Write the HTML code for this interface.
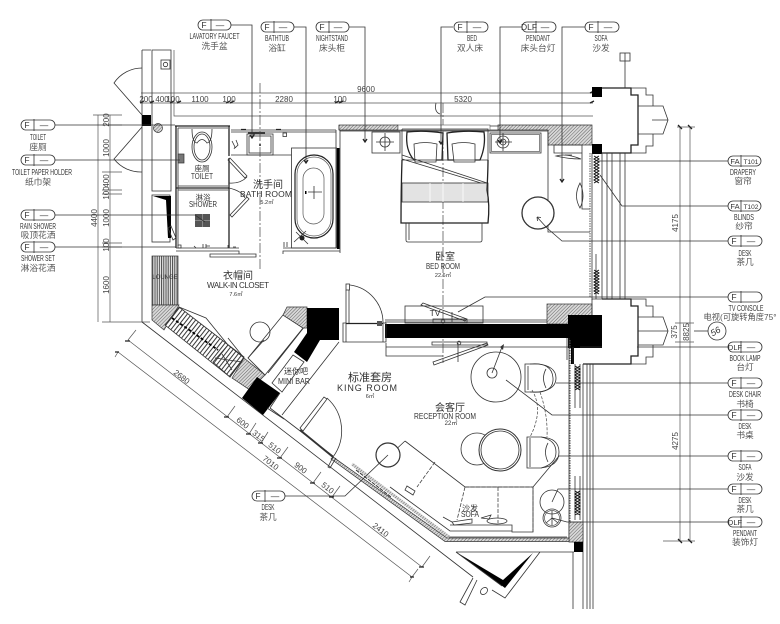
<!DOCTYPE html>
<html><head><meta charset="utf-8"><style>
html,body{margin:0;padding:0;background:#fff;width:780px;height:624px;overflow:hidden}
svg{display:block}
.s{fill:none;stroke:#333;stroke-width:.8}
.t{fill:none;stroke:#222;stroke-width:1.3}
.g{fill:none;stroke:#555;stroke-width:.7}
.k{fill:#000;stroke:none}
.h{fill:url(#hatch);stroke:#333;stroke-width:.7}
.p{fill:#fff;stroke:#333;stroke-width:.8}
text{font-family:"Liberation Sans","Noto Sans CJK SC",sans-serif;fill:#333;text-anchor:middle}
.l{font-size:8.5px}
.c{font-size:8.7px;fill:#555}
.a{font-size:8px}
.d{font-size:8px;fill:#444}
.b{font-size:9px}
.m{font-size:11px}
</style></head><body>
<svg width="780" height="624" viewBox="0 0 780 624" xmlns="http://www.w3.org/2000/svg">
<defs>
<pattern id="hatch" width="2.4" height="2.4" patternUnits="userSpaceOnUse" patternTransform="rotate(45)"><rect width="2.4" height="2.4" fill="#d8d8d8"/><line x1="0" y1="0" x2="0" y2="2.4" stroke="#555" stroke-width=".9"/></pattern>
<pattern id="vst" width="2.2" height="4" patternUnits="userSpaceOnUse"><rect width="2.2" height="4" fill="#eee"/><line x1="1" y1="0" x2="1" y2="4" stroke="#444" stroke-width="1"/></pattern>
<pattern id="dst" width="3.4" height="4" patternUnits="userSpaceOnUse" patternTransform="rotate(38)"><rect width="3.4" height="4" fill="#fff"/><line x1="1" y1="0" x2="1" y2="4" stroke="#333" stroke-width="1"/></pattern>
</defs>

<!-- top dimension lines -->
<path class="g" d="M141 93H593M141 103H593M174 50V116H593"/>
<path class="t" d="M140 103l4-2M150 103l4-2M170 103l4-2M177 103l4-2M226 103l4-2M230 103l4-2M335 103l4-2M339 103l4-2M590 93l4-2M590 103l4-2"/>
<text class="d" x="146" y="102">200</text><text class="d" x="162" y="102">400</text><text class="d" x="173" y="102">100</text><text class="d" x="200" y="102">1100</text><text class="d" x="229" y="102">100</text><text class="d" x="284" y="102">2280</text><text class="d" x="340" y="102">100</text><text class="d" x="366" y="92">9600</text><text class="d" x="463" y="102">5320</text>

<!-- left dimensions -->
<path class="g" d="M98 115V322M110 115V322M93 115H122M102 125H122M102 172H122M102 190H122M102 194H122M102 243H122M102 247H122M102 322H150"/>
<g class="d">
<text class="d" transform="translate(109,120) rotate(-90)">200</text>
<text class="d" transform="translate(109,148) rotate(-90)">1000</text>
<text class="d" transform="translate(109,181) rotate(-90)">400</text>
<text class="d" transform="translate(109,193) rotate(-90)">100</text>
<text class="d" transform="translate(109,218) rotate(-90)">1000</text>
<text class="d" transform="translate(109,245) rotate(-90)">100</text>
<text class="d" transform="translate(109,285) rotate(-90)">1600</text>
<text class="d" transform="translate(97,218) rotate(-90)">4400</text>
</g>

<!-- left service / doors -->
<path class="s" d="M142 50V322M152 50H171V191H152ZM142 50H151"/>
<path class="s" d="M142 68A34 34 0 0 0 114 83L142 115M142 172A34 34 0 0 1 114 159L142 127"/>
<rect class="k" x="142" y="115" width="9" height="11"/>
<circle cx="158" cy="128" r="4.5" fill="url(#hatch)" stroke="#333" stroke-width=".7"/>
<rect class="s" x="161" y="60" width="9" height="9"/><circle class="s" cx="165.500" cy="64.500" r="2.200"/>
<rect class="s" x="152" y="195" width="18" height="47"/>
<path class="k" d="M153 196H171V238H168L166 200Z"/>
<path class="s" d="M171 226l5 12-3 2-5-12z"/>

<!-- bathroom walls -->
<path class="t" d="M175 126H230M176 126V248M229 126V156M176 188H229M229 158V248"/>
<path class="s" d="M178 128H228M178 128V246M178 186H228M178 190H228M176 248H239M176 251H239V254M283 254V251H340M283 248H336M231 130H336M231 132H336M231 155H291.500M340 130V253M336 130V248M339 125V130"/>
<path class="k" d="M337 148H339.500V249H337Z"/>
<path class="s" d="M210 254H256V257H210Z"/>
<path class="s" d="M230 158l17 18-2 2-17-18zM247 197l-17 18 2 2 17-18z"/>
<path class="s" d="M247 177Q240 184 229 183M245 198Q242 191 229 188"/>
<!-- toilet -->
<ellipse class="s" cx="202" cy="147" rx="10" ry="15"/><ellipse class="s" cx="202" cy="147" rx="8" ry="13"/>
<path class="s" d="M192 129Q192 142 197 143Q202 136 207 143Q212 142 212 129"/>
<rect x="178" y="154" width="6" height="9" fill="#777" stroke="#333" stroke-width=".7"/>
<!-- shower -->
<rect x="195" y="214" width="15" height="13" fill="#555"/>
<path d="M195 220.500H210M202.500 214V227" stroke="#bbb" stroke-width=".5"/>
<path class="s" d="M178 245h3v3h-3zM194 246l2 2M203 244l0 4M206 244l0 4M210 246h-4M228 245v3M233 247h3"/>
<!-- vanity -->
<rect class="s" x="247" y="134" width="26" height="21"/><rect class="s" x="249" y="136" width="22" height="17"/>
<circle cx="260" cy="145" r="1" fill="#222"/>
<path class="t" d="M241 129.500h5M276 129.500h5M248 133h17"/>
<rect class="s" x="283" y="133" width="3.500" height="3.500"/>
<path class="s" d="M252 132l2 3 2-3"/>
<path class="s" d="M232 141l3 6-1 2M236 140l2 5-3 3"/>
<!-- tub -->
<rect class="s" x="291.500" y="148" width="45" height="100"/>
<rect x="295" y="155" width="38" height="83" rx="19" fill="none" stroke="#222" stroke-width="1.2"/>
<rect class="g" x="297" y="157" width="34" height="79" rx="17"/>
<rect class="g" x="303" y="168" width="21" height="56" rx="10.500"/>
<path class="s" d="M308 192H322M314 186V199"/><rect class="k" x="305" y="191" width="1.500" height="3"/>
<path class="s" d="M294 242l12-11M296 232l12 12"/><circle cx="302" cy="238" r="2.500" fill="#222"/>
<path class="s" d="M284 247v-5M287 247v-5"/>

<!-- center lines -->
<path d="M260 83V270M443 103V363" stroke="#444" stroke-width=".7" stroke-dasharray="10 2 2 2" fill="none"/>
<path class="s" d="M436 103Q434 112 440 114M441 104V116"/>

<!-- bedroom top wall -->
<path class="s" d="M339 126H498M339 130H498M340 131H548M548 131V146"/>
<rect class="h" x="339" y="125" width="59" height="5" />
<path class="h" d="M498 125H592V145H548V130H498Z"/>
<rect x="398" y="125" width="92" height="5" fill="#fff" stroke="#555" stroke-width=".6"/>

<!-- nightstands -->
<rect class="s" x="372" y="132" width="28" height="21" stroke-width="1"/>
<circle class="s" cx="385" cy="142" r="5"/><path class="s" d="M376 142H394M385 133V151"/>
<rect class="s" x="490" y="133" width="51" height="20" stroke-width="1"/><rect class="g" x="491.500" y="134.500" width="48" height="17"/>
<circle class="s" cx="503" cy="142" r="6"/><circle class="s" cx="503" cy="142" r="3"/><path class="s" d="M495 142H512M503 133V151"/>

<!-- bed -->
<path class="s" d="M402 129H488V160M402 129V160"/>
<path class="t" d="M407 132Q424 130 443 133L442 160H414Q405 150 407 132ZM447 133Q465 130 484 132Q486 146 480 160H448Z" stroke-width="1"/>
<path class="p" d="M414 144Q425 141 437 144L436 162H415Z"/>
<path class="p" d="M452 144Q464 141 475 144L475 162H454Z"/>
<path class="s" d="M402 155L487 183M402 159L481 183M402 160H488"/>
<rect x="402" y="183" width="86" height="19" fill="#e3e3e3" stroke="#333" stroke-width=".8"/>
<path d="M430 183V202M443 183V202M463 183V202" stroke="#fff" stroke-width=".8"/>
<path class="t" d="M402 160Q401 190 401 223H488Q490 205 487 190Q488 170 488 160"/>
<path class="s" d="M406 223V240Q406 242 408 242H480Q482 242 482 240V223M409 223V240"/>

<!-- wardrobe right -->
<path class="s" d="M548 132V232H590M554 145H582V153H554ZM582 153V209H590M565 155H572"/>
<path class="s" d="M556 156Q566 153 581 159Q568 159 556 156ZM580 183Q573 196 580 208Q586 196 580 183Z"/>
<circle cx="538" cy="213" r="16" fill="#fff" stroke="#333" stroke-width="1.300"/>
<path class="s" d="M547 228L537 217M537 217l4 .5M537 217l.5 4"/>

<!-- window A -->
<rect class="k" x="592" y="87" width="10" height="10"/>
<rect class="k" x="592" y="144" width="10" height="10"/>
<path class="t" d="M602 88H631V95H638V145H631V153H602"/>
<path class="s" d="M631 88H646V95H653V106H663L668 120L663 134H653V146H646V153H631M638 106H663M638 134H653M652 120H668M625 53V88"/>
<rect class="s" x="620" y="53" width="10" height="8"/>
<path class="s" d="M592 153V300M602 153V299M607 153V299M612 153V299M620 153V299M625 153V299M596 254V299M592 299H602"/>
<path d="M590 153V297" stroke="#555" stroke-width="1" stroke-dasharray="1.500 1" fill="none"/>
<path d="M594 156l5 3-5 3 5 3-5 3 5 3-5 3 5 3-5 3 5 3M599 156l-5 3 5 3-5 3 5 3-5 3 5 3-5 3 5 3-5 3M594 270l5 3-5 3 5 3-5 3 5 3-5 3 5 3-5 3M599 270l-5 3 5 3-5 3 5 3-5 3 5 3-5 3 5 3" stroke="#111" stroke-width="1" fill="none"/>

<!-- window B -->
<rect class="h" x="547" y="304" width="45" height="20"/>
<rect class="k" x="385" y="324" width="185" height="14"/>
<rect class="k" x="568" y="315" width="34" height="33"/>
<rect class="k" x="571" y="347" width="3" height="17"/>
<path class="t" d="M602 299H631V306H638V356H631V364H583"/>
<path class="s" d="M631 299H646V306H653V317H663L668 331L663 345H653V357H646V364H631M638 317H663M638 345H653M638 331H668M592 299V315"/>
<path class="s" d="M583 364V609M587 364V609M590 364V609M593 364V609M573 552V609M569 338V538"/>
<path d="M570 340V524" stroke="#555" stroke-width="1" stroke-dasharray="1.500 1" fill="none"/>
<path class="s" d="M575 364V408M580 364V408M575 476V520M580 476V520M573 364V347"/>
<path d="M575 366l5 3-5 3 5 3-5 3 5 3-5 3 5 3-5 3M580 366l-5 3 5 3-5 3 5 3-5 3 5 3-5 3 5 3M575 491l5 3-5 3 5 3-5 3 5 3-5 3 5 3-5 3M580 491l-5 3 5 3-5 3 5 3-5 3 5 3-5 3 5 3" stroke="#111" stroke-width="1" fill="none"/>
<path class="h" d="M569 522H583V542H569Z"/>
<rect class="k" x="574" y="542" width="9" height="10"/>

<!-- room divider & TV -->
<path class="s" d="M386 343V356H443M386 347H568M385 322H547M385 320H547M567 338V360"/>
<rect class="s" x="405" y="306" width="78" height="17"/>
<path class="s" d="M423 303l44 16-2 2-44-16zM433 319H467V323H433ZM432 345H487V342H432ZM433 362L487 343 488 345 434 365ZM452 312V322M458 343V362"/>
<circle class="s" cx="443" cy="321" r="1.800"/><circle class="s" cx="459" cy="343" r="1.800"/>

<!-- hotel door -->
<path class="s" d="M346 290V323M349 290V323"/>
<rect class="s" x="346" y="284" width="3.500" height="6"/>
<path class="s" d="M350 285A38 38 0 0 1 383 323"/>
<path class="t" d="M346 323.500H383" stroke-width="2"/><rect x="377" y="321" width="5" height="5" fill="#555"/>
<path class="s" d="M343 323H346V342H343ZM383 323H386V342H383ZM346 342H383"/>

<!-- closet diag wall -->
<path class="s" d="M142 322L473 577M270 408L333 456M333 457L447 540M447 537H567M390 487L450 531H512"/>
<path class="h" d="M333 457L447 538H569V541.500H445L331 459Z"/>
<rect x="152" y="256" width="26" height="49" fill="url(#vst)" stroke="#333" stroke-width=".7"/>
<text class="l" x="165" y="279" style="font-size:6px">LOUNGE</text>
<path class="h" d="M152 305H179L164 330 152 320Z"/>
<path d="M179 307L244 357 230 377 165 325Z" fill="url(#dst)" stroke="#333" stroke-width=".8"/>
<path d="M172 318L218 350" stroke="#000" stroke-width="1.800" stroke-dasharray="3 2" fill="none"/>
<path class="s" d="M179 307L206 318 228 345M228 338l16 20"/>
<path class="s" d="M228 345L244 358 230 377 213 362ZM215 358L242 362M222 354L232 370"/>
<path class="h" d="M244 358L265 375 250 390 232 378Z"/>
<path class="k" d="M257 377L280 393 263 415 242 398Z"/>
<path class="s" d="M248 358L283 315 303 328 265 375ZM268 373L305 326"/>
<circle class="s" cx="260" cy="332" r="10"/><path class="s" d="M264 340L248 358"/>
<path class="h" d="M283 315L287 307H307V328H303Z"/>
<path class="k" d="M307 308H339V340H320L307 362 294 352 307 333Z"/>
<path class="s" d="M293 355L304 362 282 392 272 383ZM339 342L282 415M267 408L284 419M280 393L270 408"/>

<!-- lower door -->
<path class="s" d="M300 428L324 397 327 399 303 431Z"/>
<path class="s" d="M327 398A44 44 0 0 1 333 457"/>
<path d="M300 430L333 457" stroke="#333" stroke-width="1.800"/>
<path class="s" d="M333 457L328 467 330 468 336 458"/>

<!-- dim diag -->
<path class="g" d="M128 340L422 567M118 352L412 577M128 340l8-10M227 417l8-11M249 434l7-11M261 443l7-11M280 458l8-11M313 483l8-11M332 497l8-11M422 567l8-11M412 577l6-8M412 577l-3 5M118 352l-3 5"/>
<path class="t" d="M125 341h5M224 417h5M246 434h5M258 443h5M277 458h5M310 483h5M329 497h5M419 567h5M410 577h4M115 352h4"/>
<text class="d" transform="translate(180,379) rotate(38)">2680</text>
<text class="d" transform="translate(241,425) rotate(38)">600</text>
<text class="d" transform="translate(257,438) rotate(38)">315</text>
<text class="d" transform="translate(273,450) rotate(38)">510</text>
<text class="d" transform="translate(299,470) rotate(38)">900</text>
<text class="d" transform="translate(326,490) rotate(38)">510</text>
<text class="d" transform="translate(269,465) rotate(38)">7010</text>
<text class="d" transform="translate(379,532) rotate(38)">2410</text>

<!-- sofa zone -->
<path class="s" d="M405 441L465 487H533V532H512V525H450M405 441L390 455"/>
<path d="M465 487H533V532" fill="none" stroke="#444" stroke-width="1" stroke-dasharray="4 1.500"/>
<path d="M498 487V523M435 462L417 487M465 487L457 520" fill="none" stroke="#444" stroke-width=".8" stroke-dasharray="4 1.500"/>
<path d="M356 470L391 497" stroke="#333" stroke-width="1" fill="none" stroke-dasharray="4 1"/>
<path d="M352 464L449 537" stroke="url(#hatch)" stroke-width="3" fill="none"/>
<path class="s" d="M407 486l8 5 -2 4 -8-5 z"/>
<ellipse class="s" cx="497" cy="521" rx="10" ry="3"/>
<path class="s" d="M443 517l9 5M452 522l20-3v4l-18 2zM481 518l10-3-2 4z"/>
<circle cx="388" cy="455" r="12" fill="#fff" stroke="#333" stroke-width="1.200"/>

<!-- reception furniture -->
<circle class="p" cx="496" cy="377" r="25" stroke-width="1.200"/>
<circle class="s" cx="492" cy="373" r="5"/><path class="s" d="M492 373L502 347"/>
<path d="M500 347l4-3 -1 6z" fill="#333"/>
<path class="s" d="M525 364H538Q556 366 556 378T538 392H525Z" stroke-width="1"/>
<path class="s" d="M528 366V390M530 364Q552 362 553 378T530 392M546 369Q541 378 546 388"/>
<path class="s" d="M527 437H541Q559 438 559 452T541 468H527Z" stroke-width="1"/>
<path class="s" d="M530 438V467M541 437Q556 440 556 452T541 468M548 443Q543 452 548 462"/>
<path d="M532 390Q544 410 530 437M540 392Q548 415 547 437" fill="none" stroke="#444" stroke-width=".7" stroke-dasharray="3 1.500"/>
<circle class="s" cx="477" cy="449" r="16" stroke-width="1.100"/>
<circle cx="500" cy="450" r="21" fill="#fff" stroke="#333" stroke-width="1"/>
<circle class="s" cx="500" cy="450" r="19"/>
<circle class="s" cx="552" cy="502" r="12" stroke-width="1.100"/>
<circle class="s" cx="552" cy="518" r="9" stroke-width="1.100"/><circle class="g" cx="552" cy="518" r="7.500"/>
<path class="s" d="M552 511V525M552 518L546 523M552 518L558 523"/>

<!-- bottom triangle -->
<path class="k" d="M456 552L503 580 533 553 505 588Z"/>
<path class="s" d="M456 552H574M540 552L505 598 492 590M456 552L502 586M477 580L465 605 460 602 473 578"/>
<ellipse class="s" cx="484" cy="591" rx="4" ry="3" transform="rotate(-45 484 591)"/>

<!-- right dims -->
<path class="g" d="M680 127V541M690 127V541M677 127H695M663 541H695M675 323H694M675 342H694"/>
<path class="t" d="M678 125l4 4M688 125l4 4M678 539l4 4M688 539l4 4"/>
<text class="d" transform="translate(678,223) rotate(-90)">4175</text>
<text class="d" transform="translate(678,441) rotate(-90)">4275</text>
<text class="d" transform="translate(677,332) rotate(-90)">375</text>
<text class="d" transform="translate(689,332) rotate(-90)">8825</text>
<path class="s" d="M694 331H708"/>
<circle class="s" cx="717" cy="331" r="9" stroke-width="1"/>
<text class="l" transform="translate(717,334) rotate(-30)" style="font-size:9px;font-style:italic">56</text>

<!-- leaders -->
<path class="s" d="M231 25H252V137M294 27H306V162M349 27H365V141M453 27H441V143M522 27H500V142M585 27H562V181"/>
<path class="t" d="M250 135l2 3 2-3M304 160l2 3 2-3M363 139l2 3 2-3M439 141l2 3 2-3M498 140l2 3 2-3M560 179l2 3 2-3"/>
<path class="s" d="M55 125H175M55 160H180M55 215H195L205 222M55 247H122M122 247H176"/>
<path class="s" d="M728 161H598M728 206H622L600 175M728 241H562L547 228M728 297H485L458 312M728 347H637M602 347H580M728 383H556M728 415H552L506 380M728 456H559L533 487M728 489H558L552 502M728 522H567L552 518M285 496H345L388 455M333 496H345"/>

<!-- pills -->
<g>
<rect class="p" x="198" y="20" width="33" height="10" rx="5"/><path class="s" d="M211 19V31"/><text class="l" x="204" y="28">F</text><text class="l" x="220" y="28">—</text>
<rect class="p" x="261" y="22" width="33" height="10" rx="5"/><path class="s" d="M274 21V33"/><text class="l" x="267" y="30">F</text><text class="l" x="283" y="30">—</text>
<rect class="p" x="316" y="22" width="33" height="10" rx="5"/><path class="s" d="M329 21V33"/><text class="l" x="322" y="30">F</text><text class="l" x="338" y="30">—</text>
<rect class="p" x="454" y="22" width="34" height="10" rx="5"/><path class="s" d="M467 21V33"/><text class="l" x="460" y="30">F</text><text class="l" x="477" y="30">—</text>
<rect class="p" x="522" y="22" width="34" height="10" rx="5"/><path class="s" d="M536 21V33"/><text class="l" x="529" y="30">DLF</text><text class="l" x="545" y="30">—</text>
<rect class="p" x="585" y="22" width="34" height="10" rx="5"/><path class="s" d="M598 21V33"/><text class="l" x="591" y="30">F</text><text class="l" x="608" y="30">—</text>

<rect class="p" x="21" y="120" width="34" height="10" rx="5"/><path class="s" d="M34 119V131"/><text class="l" x="27" y="128">F</text><text class="l" x="44" y="128">—</text>
<rect class="p" x="21" y="155" width="34" height="10" rx="5"/><path class="s" d="M34 154V166"/><text class="l" x="27" y="163">F</text><text class="l" x="44" y="163">—</text>
<rect class="p" x="21" y="210" width="34" height="10" rx="5"/><path class="s" d="M34 209V221"/><text class="l" x="27" y="218">F</text><text class="l" x="44" y="218">—</text>
<rect class="p" x="21" y="242" width="34" height="10" rx="5"/><path class="s" d="M34 241V253"/><text class="l" x="27" y="250">F</text><text class="l" x="44" y="250">—</text>

<rect class="p" x="728" y="156" width="33" height="10" rx="5"/><path class="s" d="M741 155V167"/><text class="l" x="735" y="164" style="font-size:7.500px">FA</text><text class="l" x="751" y="164" style="font-size:6.500px">T101</text>
<rect class="p" x="728" y="201" width="33" height="10" rx="5"/><path class="s" d="M741 200V212"/><text class="l" x="735" y="209" style="font-size:7.500px">FA</text><text class="l" x="751" y="209" style="font-size:6.500px">T102</text>
<rect class="p" x="728" y="236" width="34" height="10" rx="5"/><path class="s" d="M741 235V247"/><text class="l" x="734" y="244">F</text><text class="l" x="751" y="244">—</text>
<rect class="p" x="728" y="292" width="34" height="10" rx="5"/><path class="s" d="M741 291V303"/><text class="l" x="734" y="300">F</text>
<rect class="p" x="728" y="342" width="34" height="10" rx="5"/><path class="s" d="M741 341V353"/><text class="l" x="735" y="350" style="font-size:7.500px">DLF</text><text class="l" x="751" y="350">—</text>
<rect class="p" x="728" y="378" width="34" height="10" rx="5"/><path class="s" d="M741 377V389"/><text class="l" x="734" y="386">F</text><text class="l" x="751" y="386">—</text>
<rect class="p" x="728" y="410" width="34" height="10" rx="5"/><path class="s" d="M741 409V421"/><text class="l" x="734" y="418">F</text><text class="l" x="751" y="418">—</text>
<rect class="p" x="728" y="451" width="34" height="10" rx="5"/><path class="s" d="M741 450V462"/><text class="l" x="734" y="459">F</text><text class="l" x="751" y="459">—</text>
<rect class="p" x="728" y="484" width="34" height="10" rx="5"/><path class="s" d="M741 483V495"/><text class="l" x="734" y="492">F</text><text class="l" x="751" y="492">—</text>
<rect class="p" x="728" y="517" width="34" height="10" rx="5"/><path class="s" d="M741 516V528"/><text class="l" x="735" y="525" style="font-size:7.500px">DLF</text><text class="l" x="751" y="525">—</text>

<rect class="p" x="252" y="491" width="33" height="10" rx="5"/><path class="s" d="M265 490V502"/><text class="l" x="258" y="499">F</text><text class="l" x="275" y="499">—</text>
</g>

<!-- tag labels -->
<text class="l" x="214.500" y="39" textLength="50" lengthAdjust="spacingAndGlyphs">LAVATORY FAUCET</text><text class="c" x="214.500" y="49">洗手盆</text>
<text class="l" x="277" y="41" textLength="24" lengthAdjust="spacingAndGlyphs">BATHTUB</text><text class="c" x="277" y="51">浴缸</text>
<text class="l" x="332" y="41" textLength="32" lengthAdjust="spacingAndGlyphs">NIGHTSTAND</text><text class="c" x="332" y="51">床头柜</text>
<text class="l" x="472" y="41" textLength="10" lengthAdjust="spacingAndGlyphs">BED</text><text class="c" x="470" y="51">双人床</text>
<text class="l" x="538" y="41" textLength="24" lengthAdjust="spacingAndGlyphs">PENDANT</text><text class="c" x="538" y="51">床头台灯</text>
<text class="l" x="601" y="41" textLength="13" lengthAdjust="spacingAndGlyphs">SOFA</text><text class="c" x="601" y="51">沙发</text>
<text class="l" x="38" y="140" textLength="16" lengthAdjust="spacingAndGlyphs">TOILET</text><text class="c" x="38" y="150">座厕</text>
<text class="l" x="42" y="175" textLength="60" lengthAdjust="spacingAndGlyphs">TOILET PAPER HOLDER</text><text class="c" x="38" y="185">纸巾架</text>
<text class="l" x="38" y="229" textLength="36" lengthAdjust="spacingAndGlyphs">RAIN SHOWER</text><text class="c" x="38" y="238">吸顶花洒</text>
<text class="l" x="38" y="261" textLength="34" lengthAdjust="spacingAndGlyphs">SHOWER SET</text><text class="c" x="38" y="271">淋浴花洒</text>
<text class="l" x="743" y="175" textLength="26" lengthAdjust="spacingAndGlyphs">DRAPERY</text><text class="c" x="743" y="184">窗帘</text>
<text class="l" x="744" y="220" textLength="20" lengthAdjust="spacingAndGlyphs">BLINDS</text><text class="c" x="744" y="229">纱帘</text>
<text class="l" x="745" y="256" textLength="13" lengthAdjust="spacingAndGlyphs">DESK</text><text class="c" x="745" y="265">茶几</text>
<text class="l" x="746" y="311" textLength="35" lengthAdjust="spacingAndGlyphs">TV CONSOLE</text><text class="c" x="740" y="320" textLength="73" lengthAdjust="spacingAndGlyphs">电视(可旋转角度75°</text>
<text class="l" x="745" y="361" textLength="31" lengthAdjust="spacingAndGlyphs">BOOK LAMP</text><text class="c" x="745" y="370">台灯</text>
<text class="l" x="745" y="397" textLength="32" lengthAdjust="spacingAndGlyphs">DESK CHAIR</text><text class="c" x="745" y="407">书椅</text>
<text class="l" x="745" y="429" textLength="13" lengthAdjust="spacingAndGlyphs">DESK</text><text class="c" x="745" y="438">书桌</text>
<text class="l" x="745" y="470" textLength="13" lengthAdjust="spacingAndGlyphs">SOFA</text><text class="c" x="745" y="480">沙发</text>
<text class="l" x="745" y="503" textLength="13" lengthAdjust="spacingAndGlyphs">DESK</text><text class="c" x="745" y="512">茶几</text>
<text class="l" x="745" y="536" textLength="24" lengthAdjust="spacingAndGlyphs">PENDANT</text><text class="c" x="745" y="545">装饰灯</text>
<text class="l" x="268" y="510" textLength="13" lengthAdjust="spacingAndGlyphs">DESK</text><text class="c" x="268" y="520">茶几</text>

<!-- room labels -->
<text class="m" x="268" y="188" style="font-size:10px">洗手间</text>
<text class="a" x="266" y="197" style="font-size:8.500px" textLength="52">BATH ROOM</text>
<text x="267" y="204" style="font-size:5.500px">5.2㎡</text>
<text class="a" x="202" y="171" style="font-size:7.500px">座厕</text><text class="a" x="202" y="179" textLength="22" lengthAdjust="spacingAndGlyphs">TOILET</text>
<text class="a" x="203" y="200" style="font-size:7.500px">淋浴</text><text class="a" x="203" y="207" textLength="28" lengthAdjust="spacingAndGlyphs">SHOWER</text>
<text class="m" x="238" y="279" style="font-size:10px">衣帽间</text>
<text class="a" x="238" y="288" textLength="62">WALK-IN CLOSET</text>
<text x="236" y="296" style="font-size:5.500px">7.6㎡</text>
<text class="m" x="445" y="260" style="font-size:10px">卧室</text>
<text class="a" x="443" y="269" textLength="34" lengthAdjust="spacingAndGlyphs">BED ROOM</text>
<text x="443" y="277" style="font-size:5.500px">22.6㎡</text>
<text class="m" x="370" y="381">标准套房</text>
<text class="b" x="367" y="391" textLength="60">KING ROOM</text>
<text x="370" y="398" style="font-size:5.500px">6㎡</text>
<text class="m" x="450" y="411" style="font-size:10px">会客厅</text>
<text class="a" x="445" y="419" textLength="62" lengthAdjust="spacingAndGlyphs">RECEPTION ROOM</text>
<text x="451" y="425" style="font-size:6px">22㎡</text>
<text class="a" x="470" y="511">沙发</text><text class="l" x="470" y="517" textLength="18" lengthAdjust="spacingAndGlyphs">SOFA</text>
<text class="a" x="296" y="374">迷你吧</text><text class="l" x="294" y="384" textLength="32" lengthAdjust="spacingAndGlyphs">MINI BAR</text>
<text class="l" x="435" y="316">TV</text>
</svg>
</body></html>
